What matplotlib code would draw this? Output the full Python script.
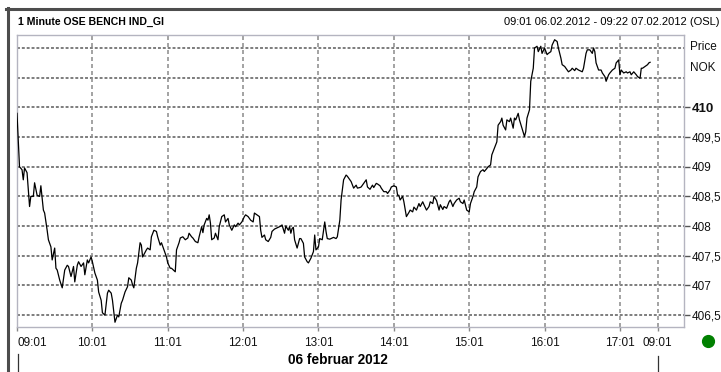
import matplotlib
matplotlib.use('Agg')
import matplotlib.pyplot as plt
from matplotlib.lines import Line2D

plt.rcParams['font.family'] = ['Liberation Sans', 'DejaVu Sans']

# minutes after 09:01 on 06.02.2012
minutes = [0, 2, 4, 5, 6, 8, 10, 11, 13, 14, 16, 18, 19, 21, 22, 24, 25, 27, 28, 30,
           31, 32, 34, 36, 38, 40, 41, 43, 45, 46, 48, 49, 51, 53, 54, 56, 57, 59, 60, 62,
           64, 65, 67, 68, 70, 72, 73, 75, 76, 78, 80, 81, 83, 84, 86, 88, 89, 91, 92,
           93, 95, 96, 98, 99, 100, 103, 104, 106, 107, 109, 111, 112, 114, 115, 117, 119, 120, 122, 123,
           126, 127, 129, 130, 132, 134, 136, 137, 139, 140, 142, 144, 145, 147, 148, 149, 151, 152, 153, 154,
           155, 157, 158, 160, 161, 163, 165, 166, 168, 169, 171, 173, 174, 176, 177, 179, 181, 182, 184,
           185, 186, 188, 189, 191, 193, 194, 195, 197, 198, 200, 202, 203, 205, 206, 208, 210, 211, 213, 214,
           216, 217, 218, 219, 220, 221, 223, 225, 226, 228, 229, 231, 232, 234, 236, 237, 238, 240, 241, 243,
           245, 246, 247, 249, 250, 252, 254, 255, 257, 258, 260, 262, 263, 265, 266, 268, 270, 271, 273, 274, 276,
           278, 279, 281, 283, 284, 286, 287, 289, 290, 292, 294, 295, 297, 298, 300, 302, 303, 304, 305, 307,
           308, 310, 312, 313, 315, 316, 318, 320, 321, 323, 324, 326, 328, 329, 331, 332, 334, 336, 337, 339,
           340, 342, 344, 345, 347, 348, 350, 352, 353, 355, 356, 358, 360, 361, 363, 364, 366, 367,
           369, 371, 372, 374, 375, 377, 378, 380, 382, 383, 385, 386, 387, 389, 390, 392, 393, 395, 396, 397,
           399, 400, 402, 404, 405, 406, 408, 409, 411, 412, 414, 415, 417, 418, 420, 422, 423, 425, 426, 428,
           430, 431, 433, 434, 436, 437, 439, 441, 442, 444, 445, 447,
           450, 451, 453, 454, 456, 458, 459, 460, 461, 463, 465, 466, 468, 469, 471, 472, 474, 476, 477, 479,
           480, 481, 483, 485, 486, 488, 489, 491, 493, 494, 496, 497, 498, 500, 502, 503, 504]

prices = [409.90, 409.00, 408.95, 408.78, 408.98, 408.90, 408.33, 408.50, 408.50, 408.73,
          408.52, 408.50, 408.68, 408.27, 408.22, 407.93, 407.77, 407.65, 407.43, 407.63,
          407.29, 407.26, 407.09, 406.96, 407.26, 407.34, 407.32, 407.15, 407.32, 407.06,
          407.34, 407.40, 407.32, 407.38, 407.18, 407.43, 407.38, 407.48, 407.40, 407.21,
          407.09, 406.89, 406.75, 406.54, 406.50, 406.87, 406.92, 406.87, 406.75, 406.38,
          406.50, 406.47, 406.70, 406.75, 406.89, 406.98, 407.13, 407.09, 407.01,
          406.96, 407.29, 407.38, 407.72, 407.68, 407.48, 407.60, 407.63, 407.60, 407.82,
          407.93, 407.91, 407.82, 407.68, 407.72, 407.60, 407.48, 407.38, 407.29, 407.29,
          407.23, 407.60, 407.72, 407.80, 407.82, 407.77, 407.80, 407.88, 407.82, 407.80,
          407.74, 407.72, 407.82, 407.99, 407.89, 408.02, 408.13, 408.10, 408.19, 408.05,
          407.77, 407.80, 407.88, 407.77, 407.99, 408.16, 408.19, 408.07, 408.13, 408.02,
          407.93, 408.02, 407.99, 408.05, 408.02, 408.07, 408.16, 408.19, 408.16,
          408.13, 408.10, 408.07, 408.22, 408.19, 408.16, 407.93, 407.81, 407.85, 407.77,
          407.74, 407.81, 407.91, 407.95, 407.96, 407.98, 408.00, 408.02, 407.88, 408.00,
          407.93, 407.99, 407.88, 407.96, 407.98, 407.77, 407.63, 407.79, 407.79, 407.71,
          407.48, 407.40, 407.38, 407.46, 407.57, 407.85, 407.60, 407.65, 407.79, 407.77,
          408.07, 407.91, 407.79, 407.78, 407.79, 407.81, 407.79, 407.82, 408.10, 408.44,
          408.78, 408.86, 408.84, 408.78, 408.75, 408.64, 408.69, 408.64, 408.65, 408.66, 408.72,
          408.78, 408.66, 408.62, 408.69, 408.65, 408.72, 408.71, 408.68, 408.64, 408.58,
          408.58, 408.55, 408.61, 408.66, 408.68, 408.66, 408.52, 408.52, 408.44, 408.50,
          408.41, 408.16, 408.23, 408.27, 408.24, 408.32, 408.27, 408.38, 408.33, 408.41,
          408.36, 408.27, 408.33, 408.41, 408.38, 408.50, 408.43, 408.27, 408.36, 408.28,
          408.33, 408.30, 408.41, 408.44, 408.33, 408.38, 408.44, 408.47, 408.41, 408.38,
          408.44, 408.27, 408.24, 408.38, 408.50, 408.58, 408.66, 408.83,
          408.92, 408.95, 408.92, 408.97, 409.00, 409.03, 409.20, 409.31, 409.42, 409.70,
          409.76, 409.82, 409.70, 409.62, 409.79, 409.76, 409.82, 409.65, 409.82, 409.79,
          409.90, 409.79, 409.65, 409.51, 409.59, 409.82, 409.96, 410.44, 410.66, 411.00,
          411.03, 410.94, 411.03, 410.91, 411.00, 410.89, 410.91, 410.94, 411.05, 411.14,
          411.11, 411.00, 410.83, 410.72, 410.69, 410.66, 410.60, 410.63, 410.66, 410.62,
          410.66, 410.63,
          410.60, 410.66, 410.91, 410.97, 410.97, 410.91, 411.00, 410.94, 410.75, 410.63,
          410.63, 410.58, 410.52, 410.44, 410.55, 410.58, 410.63, 410.66, 410.75, 410.80,
          410.55, 410.63, 410.58, 410.60, 410.58, 410.60, 410.55, 410.60, 410.55, 410.52,
          410.49, 410.66, 410.66, 410.69, 410.72, 410.75, 410.76]

tick_minutes = [0, 60, 120, 180, 240, 300, 360, 420, 480, 510]
tick_labels = ['09:01', '10:01', '11:01', '12:01', '13:01', '14:01', '15:01', '16:01', '17:01', '09:01']
price_ticks = [406.5, 407, 407.5, 408, 408.5, 409, 409.5, 410]
price_labels = ['406,5', '407', '407,5', '408', '408,5', '409', '409,5', '410']
grid_levels = [406.5, 407, 407.5, 408, 408.5, 409, 409.5, 410, 410.5, 411]

W, H = 721, 372
fig = plt.figure(figsize=(W / 100, H / 100), dpi=100)
fig.patch.set_facecolor('white')


def fx(x):
    return x / W


def fy(y):
    return 1 - y / H


ax = fig.add_axes([fx(17), fy(327), 667 / W, 292 / H])
ax.set_xlim(0, 531)
ax.set_ylim(406.30, 411.22)

for lv in grid_levels:
    ax.axhline(lv, color='#7d7d7d', lw=1.4, ls=(0, (1.5, 1.0)), zorder=1)
for tm in tick_minutes:
    ax.axvline(tm, color='#939393', lw=1.2, ls=(0, (2.4, 1.8)), zorder=1)

ax.plot(minutes, prices, color='black', lw=0.9, zorder=3)

for s in ax.spines.values():
    s.set_color('#b4b4c0')
    s.set_linewidth(1.0)

ax.yaxis.tick_right()
ax.set_yticks(price_ticks)
ax.set_yticklabels(price_labels)
ax.set_xticks(tick_minutes)
ax.set_xticklabels(tick_labels)
ax.tick_params(axis='y', length=4, width=1, color='#555555', labelsize=8.5, pad=1.5, labelcolor='#111111')
ax.tick_params(axis='x', length=3, width=1, color='#888888', labelsize=8.5, pad=4.5, labelcolor='#111111')
for lbl in ax.get_yticklabels():
    if lbl.get_text() == '410':
        lbl.set_fontweight('bold')
        lbl.set_fontsize(9.5)
xl = ax.get_xticklabels()
xl[0].set_ha('left')

fig.text(fx(690), fy(47), 'Price', fontsize=8.5, va='center', ha='left', color='#111111')
fig.text(fx(690), fy(68), 'NOK', fontsize=8.5, va='center', ha='left', color='#111111')

fig.text(fx(18), fy(22), '1 Minute OSE BENCH IND_GI', fontsize=7.6, fontweight='bold', va='center', ha='left')
fig.text(fx(719), fy(22), '09:01 06.02.2012 - 09:22 07.02.2012 (OSL)', fontsize=8.0, va='center', ha='right')
fig.text(fx(338), fy(360), '06 februar 2012', fontsize=9.8, fontweight='bold', va='center', ha='center')

# outer frame
fig.add_artist(Line2D([fx(6), fx(721)], [fy(9), fy(9)], color='#4d4d4d', lw=2.2, transform=fig.transFigure))
fig.add_artist(Line2D([fx(7.5), fx(7.5)], [fy(8), fy(372)], color='#4d4d4d', lw=2.2, transform=fig.transFigure))

# day separators below axis
fig.add_artist(Line2D([fx(18), fx(18)], [fy(354), fy(372)], color='#333333', lw=0.9, transform=fig.transFigure))
fig.add_artist(Line2D([fx(658), fx(658)], [fy(356), fy(372)], color='#333333', lw=0.9, transform=fig.transFigure))

# status dot
fig.add_artist(Line2D([fx(708)], [fy(341)], marker='o', markersize=8.5, color='#008000', lw=0,
                      transform=fig.transFigure))

fig.savefig('out.png', dpi=100)
